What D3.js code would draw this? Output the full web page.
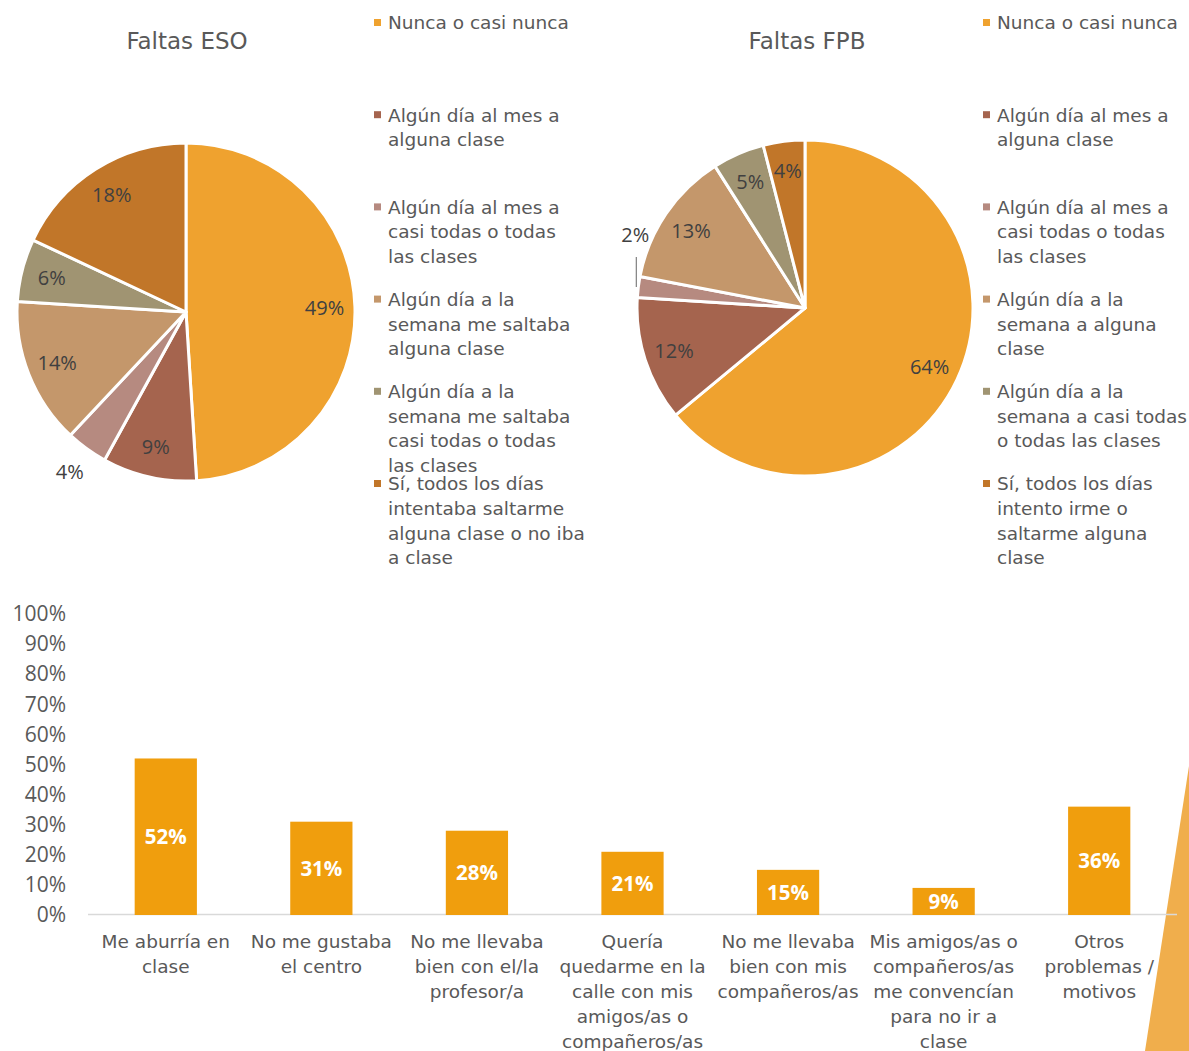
<!DOCTYPE html>
<html>
<head>
<meta charset="utf-8">
<script src="https://cdn.jsdelivr.net/npm/d3@7"></script>
<style>
  body { margin: 0; background: #fff; }
  svg { display: block; }
</style>
</head>
<body>
<div id="chart"></div>
<script>
// pie data
var pieColors = ["#EFA22F", "#A5644E", "#B68A80", "#C4976B", "#A09472", "#C17629"];

var esoTitle = "Faltas ESO";
var esoValues = [49, 9, 4, 14, 6, 18];
var esoLegend = [
  ["Nunca o casi nunca"],
  ["Algún día al mes a", "alguna clase"],
  ["Algún día al mes a", "casi todas o todas", "las clases"],
  ["Algún día a la", "semana me saltaba", "alguna clase"],
  ["Algún día a la", "semana me saltaba", "casi todas o todas", "las clases"],
  ["Sí, todos los días", "intentaba saltarme", "alguna clase o no iba", "a clase"]
];

var fpbTitle = "Faltas FPB";
var fpbValues = [64, 12, 2, 13, 5, 4];
var fpbLegend = [
  ["Nunca o casi nunca"],
  ["Algún día al mes a", "alguna clase"],
  ["Algún día al mes a", "casi todas o todas", "las clases"],
  ["Algún día a la", "semana a alguna", "clase"],
  ["Algún día a la", "semana a casi todas", "o todas las clases"],
  ["Sí, todos los días", "intento irme o", "saltarme alguna", "clase"]
];

// bar data
var barCategories = [
  ["Me aburría en", "clase"],
  ["No me gustaba", "el centro"],
  ["No me llevaba", "bien con el/la", "profesor/a"],
  ["Quería", "quedarme en la", "calle con mis", "amigos/as o", "compañeros/as"],
  ["No me llevaba", "bien con mis", "compañeros/as"],
  ["Mis amigos/as o", "compañeros/as", "me convencían", "para no ir a", "clase"],
  ["Otros", "problemas /", "motivos"]
];
var barValues = [52, 31, 28, 21, 15, 9, 36];
var yTicks = [0, 10, 20, 30, 40, 50, 60, 70, 80, 90, 100];

var W = 1189, H = 1051;
var textFont = "'DejaVu Sans', sans-serif";
var numFont = "'Open Sans', sans-serif";

var svg = d3.select("#chart").append("svg")
    .attr("width", W)
    .attr("height", H);

// decorative triangle bottom right
svg.append("path")
    .attr("d", "M1189,766 L1145,1051 L1189,1051 Z")
    .attr("fill", "#F0AE4C");

function drawPie(opts) {
    var g = svg.append("g").attr("transform", "translate(" + opts.cx + "," + opts.cy + ")");
    var r = opts.r;

    var pie = d3.pie().sort(null).value(function(d) { return d; });
    var arcs = pie(opts.values);
    var arc = d3.arc().innerRadius(0).outerRadius(r);

    g.selectAll(".slice")
        .data(arcs)
        .enter().append("path")
        .attr("class", "slice")
        .attr("d", arc)
        .attr("fill", function(d, i) { return pieColors[i]; })
        .attr("stroke", "#fff")
        .attr("stroke-width", 3)
        .attr("stroke-linejoin", "round");

    // labels, inside unless listed as outside
    arcs.forEach(function(d, i) {
        var mid = (d.startAngle + d.endAngle) / 2;
        var k = 0.82;
        var out = opts.outside[i];
        if (out) k = out.k;
        var x = Math.sin(mid) * r * k;
        var y = -Math.cos(mid) * r * k;
        if (out && out.dy) {
            // leader line going up from the slice edge
            var ex = Math.sin(mid) * r, ey = -Math.cos(mid) * r;
            g.append("line")
                .attr("x1", ex - 2).attr("y1", ey)
                .attr("x2", ex - 2).attr("y2", ey + out.dy + 22)
                .attr("stroke", "#7f7f7f")
                .attr("stroke-width", 1.2);
            x = ex - 3;
            y = ey + out.dy;
        }
        g.append("text")
            .attr("x", x)
            .attr("y", y)
            .attr("dy", "0.35em")
            .attr("text-anchor", "middle")
            .attr("font-family", numFont)
            .attr("font-size", 20)
            .attr("fill", "#404040")
            .text(d.data + "%");
    });

    svg.append("text")
        .attr("x", opts.titleX)
        .attr("y", 41)
        .attr("dy", "0.35em")
        .attr("text-anchor", "middle")
        .attr("font-family", textFont)
        .attr("font-size", 23)
        .attr("fill", "#595959")
        .text(opts.title);

    // legend
    var lg = svg.append("g");
    opts.legend.forEach(function(lines, i) {
        var y0 = 23 + i * 92.2;
        lg.append("rect")
            .attr("x", opts.legendX - 14)
            .attr("y", y0 - 4)
            .attr("width", 7)
            .attr("height", 7)
            .attr("fill", pieColors[i]);
        lines.forEach(function(t, j) {
            lg.append("text")
                .attr("x", opts.legendX)
                .attr("y", y0 + j * 24.6)
                .attr("dy", "0.35em")
                .attr("font-family", textFont)
                .attr("font-size", 18.5)
                .attr("fill", "#595959")
                .text(t);
        });
    });
}

drawPie({
    cx: 186, cy: 312, r: 169,
    values: esoValues, title: esoTitle, titleX: 187,
    legend: esoLegend, legendX: 388,
    outside: { 2: { k: 1.17 } }
});

drawPie({
    cx: 805, cy: 308, r: 168,
    values: fpbValues, title: fpbTitle, titleX: 807,
    legend: fpbLegend, legendX: 997,
    outside: { 2: { k: 1, dy: -52 } }
});

// bar chart
var x = d3.scaleBand()
    .domain(d3.range(barValues.length))
    .range([88, 1177])
    .paddingInner(0.6)
    .paddingOuter(0.3);

var y = d3.scaleLinear().domain([0, 100]).range([915, 614]);

var yAxis = svg.append("g")
    .attr("transform", "translate(66,0)")
    .call(d3.axisLeft(y).tickValues(yTicks).tickSize(0).tickPadding(0)
        .tickFormat(function(d) { return d + "%"; }));
yAxis.select(".domain").remove();
yAxis.selectAll("text")
    .attr("font-family", numFont)
    .attr("font-size", 21)
    .attr("fill", "#595959");

svg.append("line")
    .attr("x1", 88).attr("x2", 1177)
    .attr("y1", 914.5).attr("y2", 914.5)
    .attr("stroke", "#d9d9d9")
    .attr("stroke-width", 1.5);

svg.selectAll(".bar")
    .data(barValues)
    .enter().append("rect")
    .attr("class", "bar")
    .attr("x", function(d, i) { return x(i); })
    .attr("y", function(d) { return y(d); })
    .attr("width", x.bandwidth())
    .attr("height", function(d) { return y(0) - y(d); })
    .attr("fill", "#F09E0D");

svg.selectAll(".barlabel")
    .data(barValues)
    .enter().append("text")
    .attr("class", "barlabel")
    .attr("x", function(d, i) { return x(i) + x.bandwidth() / 2; })
    .attr("y", function(d) { return (y(d) + y(0)) / 2; })
    .attr("dy", "0.35em")
    .attr("text-anchor", "middle")
    .attr("font-family", numFont)
    .attr("font-weight", "bold")
    .attr("font-size", 20.5)
    .attr("fill", "#fff")
    .text(function(d) { return d + "%"; });

barCategories.forEach(function(lines, i) {
    lines.forEach(function(t, j) {
        svg.append("text")
            .attr("x", x(i) + x.bandwidth() / 2)
            .attr("y", 942 + j * 24.8)
            .attr("dy", "0.35em")
            .attr("text-anchor", "middle")
            .attr("font-family", textFont)
            .attr("font-size", 18.5)
            .attr("fill", "#595959")
            .text(t);
    });
});
</script>
</body>
</html>
